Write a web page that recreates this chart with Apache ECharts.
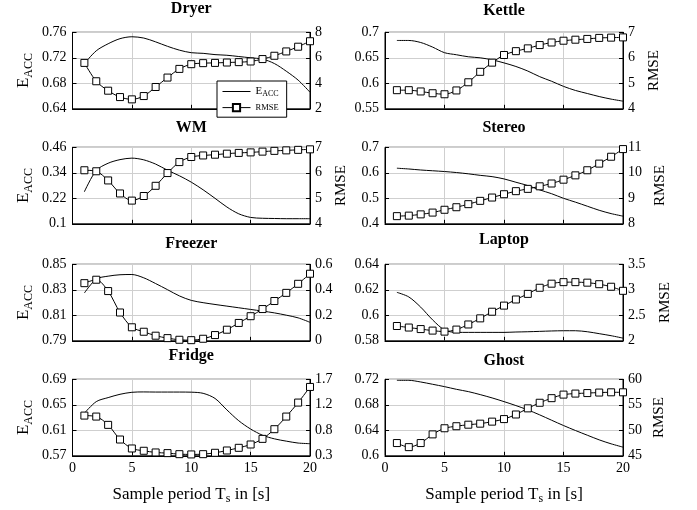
<!DOCTYPE html>
<html>
<head>
<meta charset="utf-8">
<script src="https://cdn.jsdelivr.net/npm/echarts@6/dist/echarts.min.js"></script>
<style>
body{margin:0;background:#fff}
#main{width:697px;height:510px}
</style>
</head>
<body>
<div id="main"></div>
<script>
var ts = [1,2,3,4,5,6,7,8,9,10,11,12,13,14,15,16,17,18,19,20];

var names = ['Dryer','Kettle','WM','Stereo','Freezer','Laptop','Fridge','Ghost'];

var dryerEacc = [0.711,0.731,0.742,0.750,0.753,0.751,0.745,0.738,0.732,0.728,0.727,0.725,0.724,0.722,0.720,0.718,0.711,0.699,0.685,0.666];
var dryerRmse = [5.6,4.16,3.42,2.92,2.74,3.0,3.71,4.45,5.13,5.5,5.58,5.6,5.63,5.66,5.71,5.9,6.16,6.5,6.87,7.3];
var kettleEacc = [0.684,0.684,0.680,0.671,0.660,0.656,0.652,0.650,0.646,0.640,0.633,0.624,0.613,0.604,0.594,0.586,0.580,0.574,0.569,0.565];
var kettleRmse = [4.73,4.73,4.68,4.61,4.57,4.72,5.04,5.45,5.81,6.11,6.26,6.37,6.5,6.6,6.67,6.71,6.74,6.78,6.79,6.8];
var wmEacc = [0.251,0.351,0.385,0.402,0.409,0.401,0.381,0.352,0.326,0.296,0.26,0.22,0.179,0.147,0.13,0.126,0.125,0.124,0.124,0.124];
var wmRmse = [6.1,6.06,5.7,5.19,4.91,5.09,5.49,5.99,6.42,6.62,6.68,6.71,6.75,6.78,6.8,6.83,6.86,6.88,6.9,6.92];
var stereoEacc = [0.618,0.615,0.611,0.608,0.605,0.601,0.596,0.590,0.585,0.576,0.563,0.55,0.533,0.518,0.5,0.485,0.469,0.453,0.44,0.43];
var stereoRmse = [8.3,8.32,8.37,8.44,8.55,8.65,8.77,8.9,9.03,9.16,9.28,9.37,9.47,9.58,9.73,9.9,10.1,10.36,10.63,10.93];
var freezerEacc = [0.8275,0.8384,0.8407,0.8418,0.842,0.8394,0.8349,0.8301,0.8252,0.8217,0.8199,0.8185,0.8172,0.8159,0.8146,0.8133,0.8119,0.8101,0.808,0.8045];
var freezerRmse = [0.452,0.479,0.39,0.222,0.106,0.071,0.04,0.021,0.008,0.005,0.016,0.045,0.087,0.14,0.193,0.249,0.312,0.376,0.447,0.526];
var laptopEacc = [0.618,0.6144,0.6064,0.5964,0.5885,0.5866,0.5866,0.5866,0.5866,0.5866,0.5869,0.5871,0.5874,0.5877,0.5879,0.5879,0.5871,0.5856,0.584,0.5821];
var laptopRmse = [2.29,2.26,2.23,2.2,2.18,2.22,2.32,2.44,2.57,2.69,2.81,2.92,3.04,3.12,3.15,3.15,3.14,3.11,3.06,2.98];
var fridgeEacc = [0.6368,0.655,0.6613,0.6665,0.6696,0.6702,0.670,0.670,0.670,0.6698,0.668,0.660,0.642,0.625,0.612,0.6023,0.5966,0.593,0.590,0.589];
var fridgeRmse = [1.036,1.018,0.866,0.598,0.434,0.392,0.361,0.349,0.33,0.325,0.33,0.355,0.397,0.446,0.507,0.61,0.787,1.018,1.274,1.56];
var ghostEacc = [0.7184,0.7184,0.7158,0.7122,0.7085,0.7043,0.7007,0.696,0.6908,0.685,0.6788,0.672,0.6642,0.6558,0.6475,0.6397,0.6323,0.625,0.6188,0.6136];
var ghostRmse = [47.5,46.7,47.5,49.2,50.4,50.8,51.1,51.3,51.7,52.2,53.1,54.3,55.4,56.3,57.0,57.2,57.3,57.4,57.45,57.45];

var eaccData = [dryerEacc,kettleEacc,wmEacc,stereoEacc,freezerEacc,laptopEacc,fridgeEacc,ghostEacc];
var rmseData = [dryerRmse,kettleRmse,wmRmse,stereoRmse,freezerRmse,laptopRmse,fridgeRmse,ghostRmse];

// left axis (E_ACC) and right axis (RMSE) ranges, 4 ticks each
var eaccMin = [0.64,0.55,0.1,0.4,0.79,0.58,0.57,0.6];
var eaccMax = [0.76,0.7,0.46,0.7,0.85,0.64,0.69,0.72];
var rmseMin = [2,4,4,8,0,2,0.3,45];
var rmseMax = [8,7,7,11,0.6,3.5,1.7,60];
var rmseLabel = [false,true,true,true,false,true,false,true];

initChart('main');

function pairs(ys){
	var out = [];
	for(var i=0;i<ts.length;i++){
		out.push([ts[i], ys[i]]);
	}
	return out;
}

function initChart(elem){
	var myChart = echarts.init(document.getElementById(elem));
	var font = 'Liberation Serif';
	var lefts = [72.5, 385];
	var widths = [237.5, 238];
	var tops = [32.3, 147.3, 264.3, 379.3];
	var h = 76.5;
	var titleY = [9, 10.5, 128, 127.5, 244, 240, 356, 361];
	var rmseGap = [24, 24, 24, 30, 24, 35, 24, 29];
	// subscript: smaller text pushed down by top padding
	var subRich = {
		t: {fontFamily: font, fontSize: 17, color: '#000'},
		s: {fontFamily: font, fontSize: 12, padding: [9, 0, 0, 0], color: '#000'}
	};

	var option = {
		animation: false,
		backgroundColor: '#fff',
		title: [],
		grid: [],
		xAxis: [],
		yAxis: [],
		series: [],
		legend: {
			data: [{name: 'EACC', itemStyle: {opacity: 0}}, {name: 'RMSE'}],
			orient: 'vertical',
			left: 217,
			top: 81,
			padding: [5, 8, 5, 5],
			itemGap: 5,
			itemWidth: 28,
			itemHeight: 9,
			borderColor: '#000',
			borderWidth: 1,
			borderRadius: 0,
			backgroundColor: '#fff',
			z: 1,
			lineStyle: {width: 1, color: '#000'},
			formatter: function (name) {
				return name === 'EACC' ? '{e|E}{s|ACC}' : '{r|RMSE}';
			},
			textStyle: {
				fontFamily: font,
				color: '#000',
				rich: {
					e: {fontFamily: font, fontSize: 11, color: '#000'},
					s: {fontFamily: font, fontSize: 8, padding: [5, 0, 0, 0], color: '#000'},
					r: {fontFamily: font, fontSize: 8.5, color: '#000'}
				}
			}
		}
	};

	echarts.util.each(names, function (name, idx) {
		var col = idx % 2;
		var row = Math.floor(idx / 2);
		var bottomRow = row === 3;
		var gl = lefts[col];
		var gw = widths[col];

		option.title.push({
			text: name,
			left: gl + gw / 2,
			top: titleY[idx],
			textAlign: 'center',
			textVerticalAlign: 'middle',
			padding: 0,
			textStyle: {fontFamily: font, fontSize: 16, fontWeight: 'bold', color: '#000'}
		});

		option.grid.push({
			left: gl,
			top: tops[row],
			width: gw,
			height: h,
			show: true,
			borderColor: '#000',
			borderWidth: 1,
			backgroundColor: 'transparent'
		});

		option.xAxis.push({
			type: 'value',
			gridIndex: idx,
			min: 0,
			max: 20,
			interval: 5,
			axisLine: {lineStyle: {color: '#000', width: 1}},
			axisTick: {show: true, inside: true, length: 4, lineStyle: {color: '#000'}},
			axisLabel: {show: bottomRow, margin: 6, fontFamily: font, fontSize: 14, color: '#000'},
			splitLine: {show: true, lineStyle: {color: '#cfcfcf', width: 1}},
			name: bottomRow ? '{t|Sample period T}{s|s}{t| in [s]}' : '',
			nameLocation: 'middle',
			nameGap: 28,
			nameTextStyle: {rich: subRich}
		});

		var lstep = (eaccMax[idx] - eaccMin[idx]) / 3;
		option.yAxis.push({
			type: 'value',
			gridIndex: idx,
			position: 'left',
			min: eaccMin[idx],
			max: eaccMax[idx],
			interval: lstep,
			axisLine: {show: true, lineStyle: {color: '#000', width: 1}},
			axisTick: {show: true, inside: true, length: 4, lineStyle: {color: '#000'}},
			axisLabel: {
				margin: 6, fontFamily: font, fontSize: 14, color: '#000',
				formatter: function (v) { return String(+v.toFixed(2)); }
			},
			splitLine: {show: true, lineStyle: {color: '#cfcfcf', width: 1}},
			name: col === 0 ? '{t|E}{s|ACC}' : '',
			nameLocation: 'middle',
			nameRotate: 90,
			nameGap: 38,
			nameMoveOverlap: false,
			nameTextStyle: {rich: subRich}
		});

		var rmin = rmseMin[idx], rmax = rmseMax[idx];
		var rstep = (rmax - rmin) / 3;
		var rticks = [rmin, rmin + rstep, rmin + 2 * rstep, rmax];
		option.yAxis.push({
			type: 'value',
			gridIndex: idx,
			position: 'right',
			min: rmin,
			max: rmax,
			axisLine: {show: true, lineStyle: {color: '#000', width: 1}},
			axisTick: {show: true, inside: true, length: 4, lineStyle: {color: '#000'}, customValues: rticks},
			axisLabel: {
				margin: 5, fontFamily: font, fontSize: 14, color: '#000',
				customValues: rticks,
				formatter: function (v) { return String(+v.toFixed(1)); }
			},
			splitLine: {show: false},
			name: rmseLabel[idx] ? 'RMSE' : '',
			nameLocation: 'middle',
			nameRotate: 90,
			nameGap: rmseGap[idx],
			nameMoveOverlap: false,
			nameTextStyle: {fontFamily: font, fontSize: 15, color: '#000'}
		});

		option.series.push({
			name: 'EACC',
			type: 'line',
			xAxisIndex: idx,
			yAxisIndex: idx * 2,
			data: pairs(eaccData[idx]),
			symbol: 'none',
			smooth: 0.3,
			lineStyle: {color: '#000', width: 1},
			itemStyle: {color: '#000'},
			z: 2
		});
		option.series.push({
			name: 'RMSE',
			type: 'line',
			xAxisIndex: idx,
			yAxisIndex: idx * 2 + 1,
			data: pairs(rmseData[idx]),
			symbol: 'rect',
			symbolSize: 7,
			showSymbol: true,
			smooth: 0.3,
			lineStyle: {color: '#000', width: 1},
			itemStyle: {color: '#fff', borderColor: '#000', borderWidth: 1},
			z: 3
		});
	});

	myChart.setOption(option);
}
</script>
</body>
</html>
